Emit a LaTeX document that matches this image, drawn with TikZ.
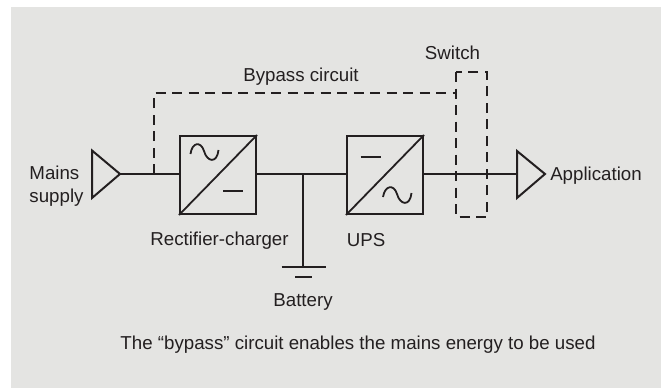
\documentclass[tikz,border=0pt]{standalone}
\usepackage{fontspec}
\setmainfont{Liberation Sans}
\definecolor{bgc}{HTML}{E4E4E2}
\definecolor{ink}{HTML}{231F20}
\tikzset{
  wire/.style={draw=ink,line width=2pt},
  thin wire/.style={draw=ink,line width=2pt},
  sym/.style={draw=ink,line width=1.8pt},
  dash wire/.style={draw=ink,line width=2pt,dash pattern=on 10pt off 6.5pt},
  lbl/.style={text=ink,font=\fontsize{18.7}{22.5}\selectfont,inner sep=0pt},
  conv/.style={draw=ink,line width=2pt,minimum width=76pt,minimum height=78pt,inner sep=0pt,rectangle},
}
\begin{document}
\begin{tikzpicture}[x=1pt,y=-1pt]
\useasboundingbox (0,0) rectangle (665,388);
\fill[bgc] (11,7) rectangle (661,388);
% terminals
\coordinate (mainsTip) at (120,174);
\draw[wire] (92,150.5) -- (mainsTip) -- (92,198) -- cycle;
\coordinate (appBase) at (517,174);
\coordinate (appTip) at (545,174);
\draw[wire] (517,151) -- (appTip) -- (517,198) -- cycle;
% boxes
\node[conv] (rect) at (218,175) {};
\node[conv] (ups) at (385,175) {};
\draw[sym] (rect.south west) -- (rect.north east);
\draw[sym] (ups.south west) -- (ups.north east);
% symbols rectifier
\draw[sym] (190.5,154) .. controls (192,142) and (201,141) .. (204,151) .. controls (207,162) and (217,164) .. (218.5,150);
\draw[wire] (223,191) -- (243,191);
% symbols ups
\draw[wire] (360.5,157) -- (381,157);
\draw[sym] (383,197) .. controls (385,185) and (394,184) .. (397,194) .. controls (400,205) and (410,207) .. (411.5,193);
% wires
\coordinate (tapIn) at (154,174);
\coordinate (tapOut) at (303,174);
\coordinate (gnd) at (303,267);
\coordinate (rectIn) at (rect.west |- tapIn);
\coordinate (rectOut) at (rect.east |- tapIn);
\coordinate (upsIn) at (ups.west |- tapIn);
\coordinate (upsOut) at (ups.east |- tapIn);
\draw[thin wire] (mainsTip) -- (rectIn);
\draw[thin wire] (rectOut) -- (upsIn);
\draw[thin wire] (upsOut) -- (appBase);
\draw[thin wire] (tapOut) -- (gnd);
\coordinate (gndL) at (281.5,267);
\coordinate (gndR) at (325.5,267);
\coordinate (batL) at (295,277);
\coordinate (batR) at (312,277);
\draw[wire] (gndL) -- (gndR);
\draw[wire,line width=2.4pt] (batL) -- (batR);
% bypass
\coordinate (bypCorner) at (154,93);
\coordinate (bypEnd) at (455,93);
\draw[dash wire] (tapIn) -- (bypCorner) -- (bypEnd);
\draw[dash wire] (456,72) rectangle (487,217);
% labels
\node[lbl,align=left] (tMains) at (56.5,186) {Mains\\supply};
\node[lbl] (tBypass) at (301,77) {Bypass circuit};
\node[lbl] (tSwitch) at (452.5,53) {Switch};
\node[lbl] (tRect) at (219.5,241) {Rectifier-charger};
\node[lbl] (tUps) at (366,240) {UPS};
\node[lbl] (tBatt) at (303,302) {Battery};
\node[lbl] (tApp) at (596,176) {Application};
\node[lbl] (tCaption) at (358,345) {The “bypass” circuit enables the mains energy to be used};
\end{tikzpicture}
\end{document}
